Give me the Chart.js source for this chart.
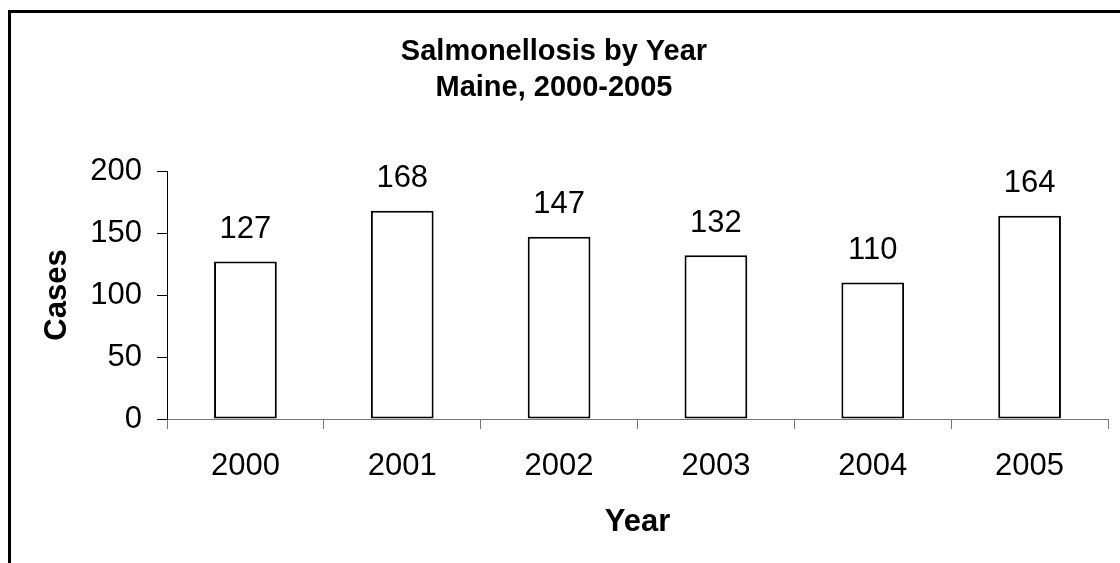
<!DOCTYPE html>
<html>
<head>
<meta charset="utf-8">
<script src="https://cdn.jsdelivr.net/npm/chart.js@4/dist/chart.umd.min.js"></script>
<style>
  html, body { margin: 0; padding: 0; background: #fff; overflow: hidden; }
  #frame { position: absolute; left: 8px; top: 10px; width: 2000px; height: 2000px; border: 3px solid #000; }
  #chart { position: absolute; left: 0; top: 0; }
</style>
</head>
<body>
<div id="frame"></div>
<canvas id="chart" width="1120" height="563"></canvas>
<script>
// data
const years = ['2000', '2001', '2002', '2003', '2004', '2005'];
const cases = [127, 168, 147, 132, 110, 164];
const titleLines = ['Salmonellosis by Year', 'Maine, 2000-2005'];

const FONT = '"Liberation Sans", Arial, sans-serif';

// value labels above the bars
const barLabels = {
  id: 'barLabels',
  afterDatasetsDraw(chart) {
    const ctx = chart.ctx;
    const meta = chart.getDatasetMeta(0);
    ctx.save();
    ctx.font = '31px ' + FONT;
    ctx.fillStyle = '#000';
    ctx.textAlign = 'center';
    ctx.textBaseline = 'middle';
    meta.data.forEach((bar, i) => {
      ctx.fillText(cases[i], bar.x, bar.y - 32);
    });
    ctx.restore();
  }
};

new Chart(document.getElementById('chart'), {
  type: 'bar',
  data: {
    labels: years,
    datasets: [{
      label: 'Cases',
      data: cases,
      backgroundColor: '#fff',
      borderColor: '#000',
      borderWidth: 2,
      borderSkipped: false,
      categoryPercentage: 1,
      barPercentage: 0.4
    }]
  },
  options: {
    responsive: false,
    animation: false,
    layout: { padding: { left: 0, right: 12, top: 0, bottom: 0 } },
    plugins: {
      legend: { display: false },
      tooltip: { enabled: false },
      title: {
        display: true,
        text: titleLines,
        color: '#000',
        font: { family: FONT, size: 29, weight: 'bold', lineHeight: '36px' },
        padding: { top: 34, bottom: 65 }
      }
    },
    scales: {
      x: {
        afterFit: scale => { scale.height = 144; },
        grid: { drawOnChartArea: false, tickLength: 10, color: '#777', offset: true },
        border: { display: true, color: '#777', width: 1 },
        ticks: { color: '#000', padding: 19, font: { family: FONT, size: 31 } },
        title: {
          display: true,
          text: 'Year',
          color: '#000',
          font: { family: FONT, size: 31, weight: 'bold' },
          padding: { bottom: 22 }
        }
      },
      y: {
        min: 0,
        max: 200,
        afterFit: scale => { scale.width = 167; },
        grid: { drawOnChartArea: false, tickLength: 10, color: '#000' },
        border: { display: true, color: '#000', width: 1 },
        ticks: { stepSize: 50, color: '#000', padding: 15, font: { family: FONT, size: 31 } },
        title: {
          display: true,
          text: 'Cases',
          color: '#000',
          font: { family: FONT, size: 31, weight: 'bold' },
          padding: { top: 39 }
        }
      }
    }
  },
  plugins: [barLabels]
});
</script>
</body>
</html>
